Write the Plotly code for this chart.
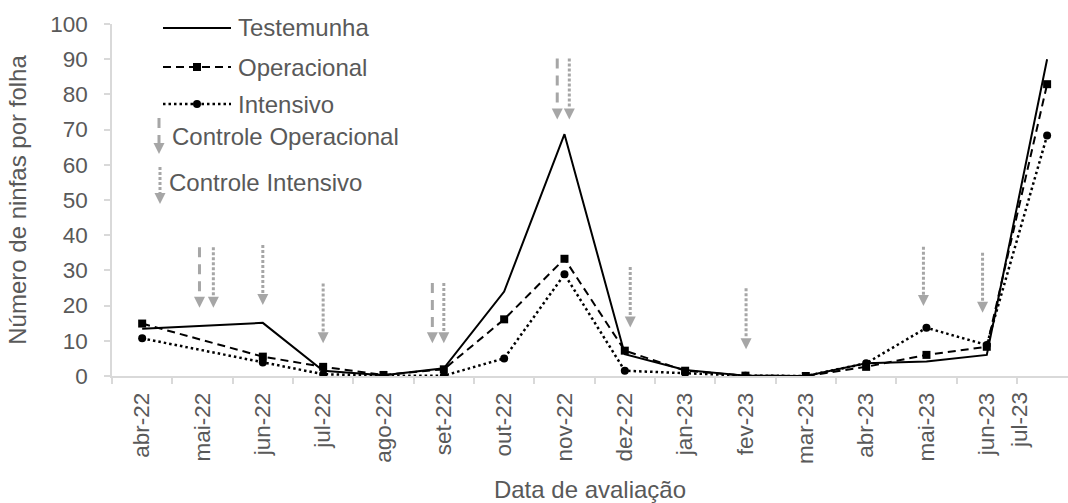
import plotly.graph_objects as go

# ---------------- data ----------------
months = ["abr-22", "mai-22", "jun-22", "jul-22", "ago-22", "set-22", "out-22", "nov-22",
          "dez-22", "jan-23", "fev-23", "mar-23", "abr-23", "mai-23", "jun-23", "jul-23"]
testemunha = [13.4, None, 15.1, 1.5, 0.2, 2.2, 24.0, 68.7, 6.2, 1.7, 0.1, 0.0, 3.6, 4.1, 6.0, 90.0]
operacional = [14.9, None, 5.5, 2.6, 0.3, 1.9, 16.1, 33.3, 7.2, 1.5, 0.1, 0.0, 2.6, 6.0, 8.3, 82.9]
intensivo = [10.7, None, 3.8, 0.5, 0.1, 0.1, 5.0, 28.9, 1.5, 0.8, 0.1, 0.0, 3.6, 13.7, 8.8, 68.3]

# control applications (arrows): position (category index), top and tip values
ctrl_op_x = [0.95, 4.81, 6.88]
ctrl_op_top = [36.6, 26.4, 90.2]
ctrl_op_tip = [19.4, 9.3, 72.9]
ctrl_int_x = [1.18, 2.0, 3.0, 5.0, 7.08, 8.09, 10.01, 12.95, 13.93]
ctrl_int_top = [36.6, 37.2, 26.3, 26.4, 90.2, 31.0, 24.9, 36.7, 35.0]
ctrl_int_tip = [19.4, 20.2, 9.3, 9.3, 72.9, 13.8, 7.6, 19.9, 18.0]

y_ticks = list(range(0, 101, 10))

# ---------------- layout constants ----------------
W, H = 1068, 503
ML, MR, MT, MB = 112, 0, 24, 127
PW, PH = W - ML - MR, H - MT - MB
PX_PER_CAT = 60.33
x_range = [-0.5, -0.5 + PW / PX_PER_CAT]
y_range = [0, 100]
PX_PER_Y = PH / 100.0

FONT = "Arial, Liberation Sans, sans-serif"
TXT = "#595959"
GREY = "#A6A6A6"
AXC = "#D9D9D9"
FS_TICK = 22.5
FS_TXT = 24

x_idx = list(range(len(months)))

fig = go.Figure()

fig.add_trace(go.Scatter(x=x_idx, y=testemunha, mode="lines", connectgaps=True,
                         line=dict(color="black", width=2), name="Testemunha",
                         showlegend=False))
fig.add_trace(go.Scatter(x=x_idx, y=operacional, mode="lines+markers", connectgaps=True,
                         line=dict(color="black", width=2, dash="8px,5px"),
                         marker=dict(symbol="square", size=8, color="black"),
                         name="Operacional", showlegend=False))
fig.add_trace(go.Scatter(x=x_idx, y=intensivo, mode="lines+markers", connectgaps=True,
                         line=dict(color="black", width=2.5, dash="2.5px,3px"),
                         marker=dict(symbol="circle", size=8, color="black"),
                         name="Intensivo", showlegend=False))

shapes = []
HEAD_H = 11 / PX_PER_Y
HEAD_HW = 5.5 / PX_PER_CAT


def data_arrow(x, top, tip, dash):
    shapes.append(dict(type="line", xref="x", yref="y", x0=x, x1=x, y0=top, y1=tip + HEAD_H,
                       line=dict(color=GREY, width=3, dash=dash)))
    path = "M {a},{b} L {c},{b} L {x},{t} Z".format(a=x - HEAD_HW, c=x + HEAD_HW, b=tip + HEAD_H, x=x, t=tip)
    shapes.append(dict(type="path", xref="x", yref="y", path=path,
                       fillcolor=GREY, line=dict(color=GREY, width=0)))


OP_DASH = "10px,7px"
INT_DASH = "3px,2px"
for x, t, p in zip(ctrl_op_x, ctrl_op_top, ctrl_op_tip):
    data_arrow(x, t, p, OP_DASH)
for x, t, p in zip(ctrl_int_x, ctrl_int_top, ctrl_int_tip):
    data_arrow(x, t, p, INT_DASH)


# ---------------- custom legend (paper coordinates from pixels) ----------------
def px(xp):
    return (xp - ML) / PW


def py(yp):
    return (H - MB - yp) / PH


annotations = []


def leg_text(x, y, text):
    annotations.append(dict(xref="paper", yref="paper", x=px(x), y=py(y), text=text,
                            showarrow=False, xanchor="left", yanchor="middle",
                            font=dict(family=FONT, size=FS_TXT, color=TXT)))


# series entries
leg_rows = [("Testemunha", 28, None, None), ("Operacional", 67, "8px,5px", "square"),
            ("Intensivo", 104, "2.5px,3px", "circle")]
for name, yy, dash, sym in leg_rows:
    ln = dict(color="black", width=2 if sym != "circle" else 2.5)
    if dash:
        ln["dash"] = dash
    shapes.append(dict(type="line", xref="paper", yref="paper", x0=px(163), x1=px(231),
                       y0=py(yy), y1=py(yy), line=ln))
    if sym == "square":
        shapes.append(dict(type="rect", xref="paper", yref="paper", x0=px(193), x1=px(201),
                           y0=py(yy + 4), y1=py(yy - 4), fillcolor="black", line=dict(width=0)))
    elif sym == "circle":
        shapes.append(dict(type="circle", xref="paper", yref="paper", x0=px(193), x1=px(201),
                           y0=py(yy + 4), y1=py(yy - 4), fillcolor="black", line=dict(width=0)))
    leg_text(236, yy, name)


def leg_arrow(x, y0, y1, tip, dash):
    shapes.append(dict(type="line", xref="paper", yref="paper", x0=px(x), x1=px(x),
                       y0=py(y0), y1=py(y1), line=dict(color=GREY, width=3, dash=dash)))
    path = "M {a},{b} L {c},{b} L {m},{t} Z".format(a=px(x - 5.5), c=px(x + 5.5), b=py(y1),
                                                    m=px(x), t=py(tip))
    shapes.append(dict(type="path", xref="paper", yref="paper", path=path,
                       fillcolor=GREY, line=dict(color=GREY, width=0)))


leg_arrow(159, 118, 143, 154, OP_DASH)
leg_text(170, 136, "Controle Operacional")
leg_arrow(160, 167, 193, 204, INT_DASH)
leg_text(167, 182, "Controle Intensivo")

# last category label is pushed inside the chart area (as in the original)
annotations.append(dict(xref="paper", yref="paper", x=px(1019), y=py(390), text=months[-1],
                        showarrow=False, textangle=-90, xanchor="center", yanchor="top",
                        font=dict(family=FONT, size=FS_TICK, color=TXT)))
tick_text = months[:-1] + [""]

fig.update_layout(
    width=W, height=H,
    margin=dict(l=ML, r=MR, t=MT, b=MB, pad=0),
    paper_bgcolor="white", plot_bgcolor="white",
    font=dict(family=FONT, size=FS_TICK, color=TXT),
    shapes=shapes, annotations=annotations,
    showlegend=False,
)

fig.update_xaxes(
    range=x_range, tickmode="array", tickvals=x_idx, ticktext=tick_text, tickangle=-90,
    ticks="", showgrid=False, zeroline=False, automargin=False, ticklabelstandoff=6,
    showline=True, linecolor=AXC, linewidth=1.5,
    tickfont=dict(family=FONT, size=FS_TICK, color=TXT),
    minor=dict(tickmode="array", tickvals=[i - 0.5 for i in range(len(months) + 1)],
               ticks="outside", ticklen=6, tickcolor=AXC, tickwidth=1.5, showgrid=False),
    title=dict(text="Data de avaliação", font=dict(family=FONT, size=FS_TXT, color=TXT), standoff=18),
)
fig.update_yaxes(
    range=y_range, tickmode="array", tickvals=y_ticks, ticks="outside", ticklen=6,
    tickcolor=AXC, tickwidth=1.5, showgrid=False, zeroline=False, automargin=False,
    showline=True, linecolor=AXC, linewidth=1.5, ticklabelstandoff=12,
    tickfont=dict(family=FONT, size=FS_TICK, color=TXT),
    title=dict(text="Número de ninfas por folha", font=dict(family=FONT, size=FS_TXT, color=TXT), standoff=17),
)

fig.write_html("out.html", config={"displayModeBar": False},
               post_script="document.body.style.margin='0';document.body.style.overflow='hidden';")
